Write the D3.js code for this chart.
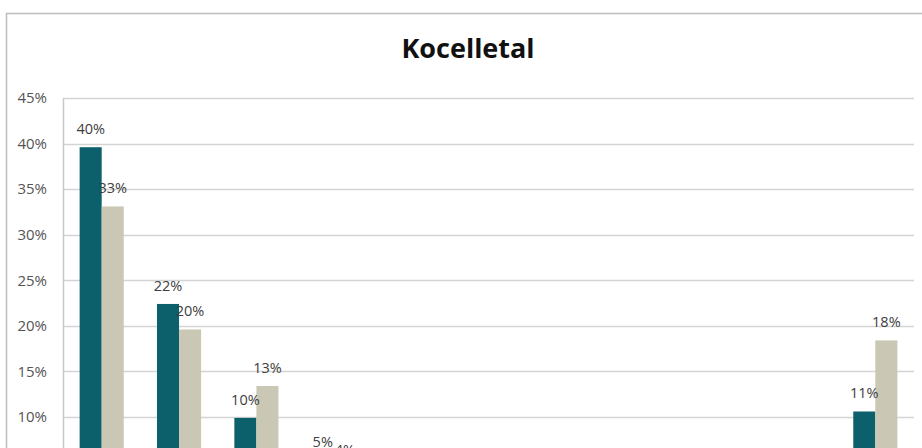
<!DOCTYPE html>
<html>
<head>
<meta charset="utf-8">
<script src="https://cdn.jsdelivr.net/npm/d3@7"></script>
<style>
  body { margin: 0; background: #fff; overflow: hidden; }
  svg { display: block; font-family: "Open Sans", "Noto Sans", sans-serif; }
</style>
</head>
<body>
<script>
// values (bottom of the chart is cut off in the reference)
let categories = ['1', '2', '3', '4', '5', '6', '7', '8', '9', '10', '11'];
let seriesNames = ['Serie 1', 'Serie 2'];
let serie1 = [39.6, 22.4, 9.9, 5.3, 4.1, 1.5, 2.4, 1.0, 1.0, 1.4, 10.6];
let serie2 = [33.1, 19.6, 13.4, 4.4, 4.0, 1.6, 3.9, 1.1, 0.9, 1.2, 18.4];
let yTicks = [0, 5, 10, 15, 20, 25, 30, 35, 40, 45];

let width = 922;
let height = 600;
let margin = { top: 98, right: 8, bottom: 92, left: 63 };
let colors = ['#0b606c', '#cac7b4'];

let svg = d3.select('body')
  .append('svg')
  .attr('width', width)
  .attr('height', height);

// chart frame
svg.append('rect')
  .attr('x', 6.5)
  .attr('y', 13.5)
  .attr('width', width + 20)
  .attr('height', height)
  .attr('fill', 'none')
  .attr('stroke', '#bdbdbd')
  .attr('stroke-width', 1.5);

svg.append('text')
  .attr('x', 468)
  .attr('y', 58)
  .attr('text-anchor', 'middle')
  .attr('font-size', 27)
  .attr('font-weight', 'bold')
  .attr('fill', '#111')
  .text('Kocelletal');

let plotRight = 914;
let y = d3.scaleLinear()
  .domain([0, 45])
  .range([height - margin.bottom + 0.1, margin.top]);

let x0 = d3.scaleBand()
  .domain(categories)
  .range([margin.left, plotRight])
  .paddingInner(0.43)
  .paddingOuter(0.215);

let x1 = d3.scaleBand()
  .domain(seriesNames)
  .range([0, x0.bandwidth()]);

// gridlines
svg.append('g')
  .selectAll('line')
  .data(yTicks)
  .enter()
  .append('line')
  .attr('x1', margin.left)
  .attr('x2', plotRight)
  .attr('y1', (d) => { return Math.round(y(d)) + 0.5; })
  .attr('y2', (d) => { return Math.round(y(d)) + 0.5; })
  .attr('stroke', '#d4d4d4')
  .attr('stroke-width', 1.5);

// plot area left edge
svg.append('line')
  .attr('x1', margin.left + 0.5)
  .attr('x2', margin.left + 0.5)
  .attr('y1', y(45))
  .attr('y2', y(0))
  .attr('stroke', '#c8c8c8')
  .attr('stroke-width', 1.5);

let yAxis = svg.append('g')
  .attr('transform', 'translate(' + margin.left + ',0)')
  .call(d3.axisLeft(y).tickValues(yTicks.filter((t) => { return t >= 10; }))
    .tickSize(0).tickPadding(16)
    .tickFormat((d) => { return d + '%'; }));
yAxis.select('.domain').remove();
yAxis.selectAll('text')
  .attr('font-size', 15)
  .attr('fill', '#555')
  .attr('font-family', '"Open Sans", sans-serif');

let rows = categories.map((c, i) => {
  return { cat: c, values: [serie1[i], serie2[i]] };
});

let groups = svg.selectAll('.grp')
  .data(rows)
  .enter()
  .append('g')
  .attr('class', 'grp')
  .attr('transform', (d) => { return 'translate(' + x0(d.cat) + ',0)'; });

groups.selectAll('rect')
  .data((d) => { return d.values.map((v, j) => { return { name: seriesNames[j], v: v, j: j }; }); })
  .enter()
  .append('rect')
  .attr('x', (d) => { return x1(d.name); })
  .attr('width', x1.bandwidth())
  .attr('y', (d) => { return y(d.v); })
  .attr('height', (d) => { return y(0) - y(d.v); })
  .attr('fill', (d) => { return colors[d.j]; });

groups.selectAll('text')
  .data((d) => { return d.values.map((v, j) => { return { name: seriesNames[j], v: v }; }); })
  .enter()
  .append('text')
  .attr('x', (d) => { return x1(d.name) + x1.bandwidth() / 2; })
  .attr('y', (d) => { return y(d.v) - 13; })
  .attr('text-anchor', 'middle')
  .attr('font-size', 14.5)
  .attr('fill', '#404040')
  .text((d) => { return Math.round(d.v) + '%'; });

// category axis line (below the visible window)
svg.append('line')
  .attr('x1', margin.left)
  .attr('x2', plotRight)
  .attr('y1', y(0))
  .attr('y2', y(0))
  .attr('stroke', '#c8c8c8');
</script>
</body>
</html>
